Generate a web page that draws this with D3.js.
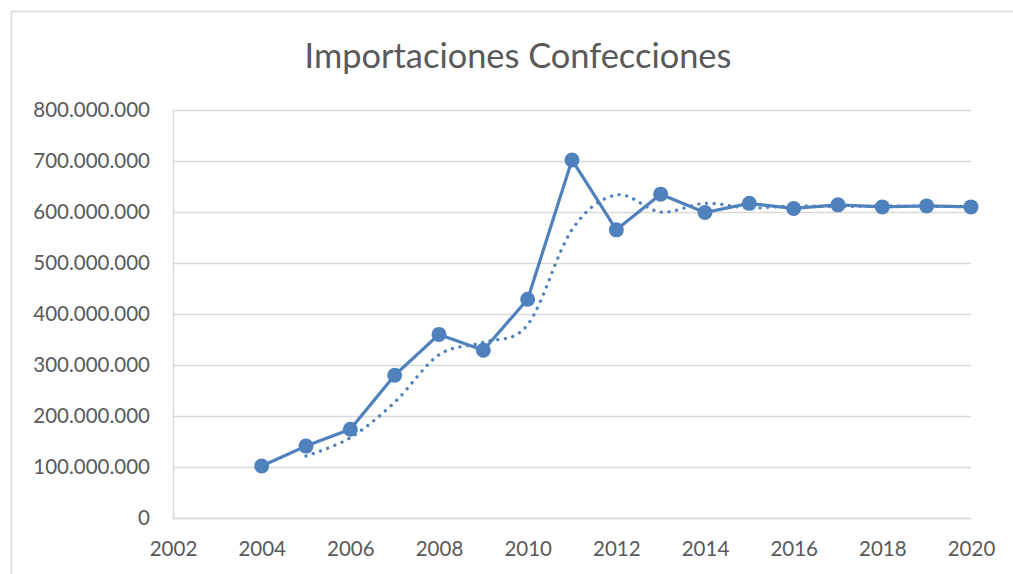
<!DOCTYPE html>
<html>
<head>
<meta charset="utf-8">
<script src="https://cdn.jsdelivr.net/npm/d3@7"></script>
<style>
  body { margin: 0; background: #fff; }
  text { font-family: Lato, "Open Sans", sans-serif; fill: #595959; }
</style>
</head>
<body>
<div id="chart"></div>
<script>
// data
var years = [2004, 2005, 2006, 2007, 2008, 2009, 2010, 2011, 2012,
             2013, 2014, 2015, 2016, 2017, 2018, 2019, 2020];
var imports = [102000000, 141000000, 174000000, 280000000, 360000000, 329000000,
               429000000, 702000000, 565000000, 635000000, 599000000, 617000000,
               607000000, 614000000, 610000000, 612000000, 610000000];

// 2-period moving average trendline (dotted)
var trendYears = [2005, 2006, 2007, 2008, 2009, 2010, 2011, 2012,
                  2013, 2014, 2015, 2016, 2017, 2018, 2019, 2020];
var trend = [121500000, 157500000, 227000000, 320000000, 344500000, 379000000,
             565500000, 633500000, 600000000, 617000000, 608000000, 612000000,
             610500000, 612000000, 611000000, 611000000];

var xTicks = [2002, 2004, 2006, 2008, 2010, 2012, 2014, 2016, 2018, 2020];
var yTicks = [0, 100000000, 200000000, 300000000, 400000000,
              500000000, 600000000, 700000000, 800000000];

var svgWidth = 1013;
var svgHeight = 574;

var margin = { top: 110, right: 42, bottom: 56, left: 173 };
var width = svgWidth - margin.left - margin.right;
var height = svgHeight - margin.top - margin.bottom;

var color = "#4f81bd";
var gridColor = "#d9d9d9";

var svg = d3.select("#chart")
  .append("svg")
  .attr("width", svgWidth)
  .attr("height", svgHeight);

// chart border
svg.append("rect")
  .attr("x", 11.5)
  .attr("y", 11.5)
  .attr("width", 1100)
  .attr("height", 700)
  .attr("fill", "none")
  .attr("stroke", gridColor)
  .attr("stroke-width", 1.5);

// title, fitted to the width seen in the picture
var title = svg.append("text")
  .attr("x", 518)
  .attr("y", 68)
  .attr("text-anchor", "middle")
  .attr("font-size", 32)
  .text("Importaciones Confecciones");
var tw = title.node().getComputedTextLength();
title.attr("font-size", 32 * 427 / tw);

var chartGroup = svg.append("g")
  .attr("transform", `translate(${margin.left}, ${margin.top})`);

var xScale = d3.scaleLinear()
  .domain([2002, 2020])
  .range([0, width]);

var yScale = d3.scaleLinear()
  .domain([0, 800000000])
  .range([height, 0]);

var esLocale = d3.formatLocale({ decimal: ",", thousands: ".", grouping: [3], currency: ["$", ""] });
var fmt = esLocale.format(",");

// gridlines
chartGroup.append("g")
  .selectAll("line")
  .data(yTicks)
  .enter()
  .append("line")
  .attr("x1", 0)
  .attr("x2", width)
  .attr("y1", d => Math.round(yScale(d)) + 0.5)
  .attr("y2", d => Math.round(yScale(d)) + 0.5)
  .attr("stroke", gridColor)
  .attr("stroke-width", 1.5);

// left axis
var leftAxis = d3.axisLeft(yScale)
  .tickValues(yTicks)
  .tickFormat(fmt)
  .tickSize(0)
  .tickPadding(23);

var yAxis = chartGroup.append("g").call(leftAxis);
yAxis.select(".domain").attr("stroke", gridColor).attr("stroke-width", 1.5);
yAxis.selectAll("text")
  .attr("font-size", 20.5)
  .attr("fill", "#595959")
  .attr("font-family", "Lato, 'Open Sans', sans-serif");

// bottom axis
var bottomAxis = d3.axisBottom(xScale)
  .tickValues(xTicks)
  .tickFormat(d3.format("d"))
  .tickSize(0)
  .tickPadding(23);

var xAxis = chartGroup.append("g")
  .attr("transform", `translate(0, ${height})`)
  .call(bottomAxis);
xAxis.select(".domain").attr("stroke", gridColor).attr("stroke-width", 1.5);
xAxis.selectAll("text")
  .attr("font-size", 20.5)
  .attr("fill", "#595959")
  .attr("font-family", "Lato, 'Open Sans', sans-serif");

// dotted moving average
var trendLine = d3.line()
  .x((d, i) => xScale(trendYears[i]))
  .y(d => yScale(d))
  .curve(d3.curveCatmullRom.alpha(0));

chartGroup.append("path")
  .datum(trend)
  .attr("d", trendLine)
  .attr("fill", "none")
  .attr("stroke", color)
  .attr("stroke-width", 3.3)
  .attr("stroke-linecap", "round")
  .attr("stroke-dasharray", "0.1 7.6");

// main series
var line = d3.line()
  .x((d, i) => xScale(years[i]))
  .y(d => yScale(d));

chartGroup.append("path")
  .datum(imports)
  .attr("d", line)
  .attr("fill", "none")
  .attr("stroke", color)
  .attr("stroke-width", 3.2)
  .attr("stroke-linejoin", "round");

chartGroup.selectAll("circle")
  .data(imports)
  .enter()
  .append("circle")
  .attr("cx", (d, i) => xScale(years[i]))
  .attr("cy", d => yScale(d))
  .attr("r", 7.5)
  .attr("fill", color);
</script>
</body>
</html>
